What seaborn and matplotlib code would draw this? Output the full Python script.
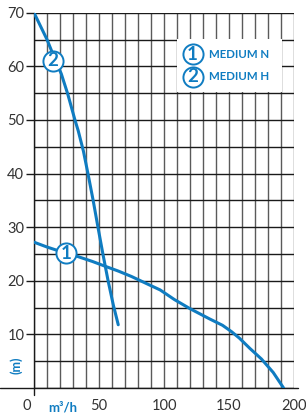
import pandas as pd
import seaborn as sns
import matplotlib.pyplot as plt
from matplotlib.patches import Rectangle
from matplotlib.transforms import ScaledTranslation

# Pump curves: flow (m3/h) vs head (m)
flow_n = [0, 10, 25, 34, 45, 56, 65, 75, 89, 97, 108, 120, 135, 145, 152, 158, 166, 175, 184, 192]
head_n = [27.2, 26.3, 25.1, 24.5, 23.6, 22.6, 21.8, 20.8, 19.2, 18.3, 16.5, 14.8, 12.9, 11.7, 10.5, 9.3, 7.4, 5.4, 2.9, 0]
flow_h = [0, 10, 15, 21, 26, 31.5, 34, 38, 41.5, 45.5, 49.2, 53, 57, 61, 64.8]
head_h = [70, 65, 62, 58.6, 54.8, 50, 48, 44.2, 40, 35, 30, 25, 20, 15.5, 11.8]
series_names = ['MEDIUM N', 'MEDIUM H']
series_ids = ['1', '2']
label_flow = [25, 14.6]
label_head = [25.1, 61.0]
x_ticks = [0, 50, 100, 150, 200]
y_ticks = [10, 20, 30, 40, 50, 60, 70]

blue = '#0f7cc1'

df = pd.concat([
    pd.DataFrame({'flow': flow_n, 'head': head_n, 'pump': series_names[0]}),
    pd.DataFrame({'flow': flow_h, 'head': head_h, 'pump': series_names[1]}),
])

sns.set_style('white')
plt.rcParams['font.family'] = ['Lato', 'DejaVu Sans']

fig = plt.figure(figsize=(3.06, 4.17), dpi=100)
ax = fig.add_axes([0.1111, 0.0695, 0.8497, 0.9])

sns.lineplot(data=df, x='flow', y='head', hue='pump', palette=[blue, blue],
             sort=False, linewidth=2.2, legend=False, ax=ax, zorder=3)

ax.set_xlim(0, 200)
ax.set_ylim(0, 70)

# grid: vertical every 10, horizontal every 5
ax.set_xticks(x_ticks)
ax.set_xticks(range(0, 201, 10), minor=True)
ax.set_yticks(y_ticks)
ax.set_yticks(range(0, 71, 5), minor=True)
ax.xaxis.grid(True, which='both', color='#5a5a5a', linewidth=1.0)
ax.yaxis.grid(True, which='both', color='#1a1a1a', linewidth=1.0)
ax.set_axisbelow(True)

ax.tick_params(axis='x', which='both', length=0, pad=8, labelsize=10.5, labelcolor='#333333')
ax.tick_params(axis='y', which='major', length=6, width=1.0, color='#1a1a1a',
               pad=1, labelsize=10.5, labelcolor='#333333', direction='out', left=True)
ax.tick_params(axis='y', which='minor', length=0)
ax.set_xticklabels([str(t) for t in x_ticks])
ax.set_yticklabels([str(t) for t in y_ticks])
lbl0 = ax.get_xticklabels()[0]
lbl0.set_transform(lbl0.get_transform() + ScaledTranslation(-7 / 100, 0, fig.dpi_scale_trans))

for side in ['top', 'right', 'left', 'bottom']:
    ax.spines[side].set_visible(False)

# baseline running past both ends, left axis line dropping below it
ax.plot([-0.131, 1.015], [0, 0], transform=ax.transAxes, color='#1a1a1a',
        linewidth=1.0, clip_on=False, zorder=2)
ax.plot([0, 0], [-0.019, 1], transform=ax.transAxes, color='#1a1a1a',
        linewidth=1.0, clip_on=False, zorder=2)

# numbered circle labels on the curves
for fx, hy, sid in zip(label_flow, label_head, series_ids):
    ax.plot(fx, hy, marker='o', markersize=14.5, markerfacecolor='white',
            markeredgecolor=blue, markeredgewidth=1.4, zorder=4)
    ax.text(fx, hy, sid, color=blue, fontsize=13.5, fontweight='bold',
            ha='center', va='center', zorder=5)

# legend box
ax.add_patch(Rectangle((0.549, 0.788), 0.406, 0.141, transform=ax.transAxes,
                       facecolor='white', edgecolor='none', zorder=3))
for y_pos, sid, name in zip([0.890, 0.8295], series_ids, series_names):
    ax.plot(0.61, y_pos, marker='o', markersize=14.5, markerfacecolor='white',
            markeredgecolor=blue, markeredgewidth=1.4, transform=ax.transAxes, zorder=4)
    ax.text(0.61, y_pos, sid, color=blue, fontsize=13.5, fontweight='bold',
            ha='center', va='center', transform=ax.transAxes, zorder=5)
    ax.text(0.674, y_pos, name, color=blue, fontsize=8.3, fontweight='bold',
            ha='left', va='center', transform=ax.transAxes, zorder=5)

ax.set_xlabel('')
ax.set_ylabel('')
fig.text(16 / 306, 1 - 365 / 417, '(m)', rotation=90, color=blue, fontsize=9,
         fontweight='bold', ha='center', va='center')
fig.text(63 / 306, 1 - 408 / 417, 'm³/h', color=blue, fontsize=9.5,
         fontweight='bold', ha='center', va='center')

fig.savefig('out.png', dpi=100)
